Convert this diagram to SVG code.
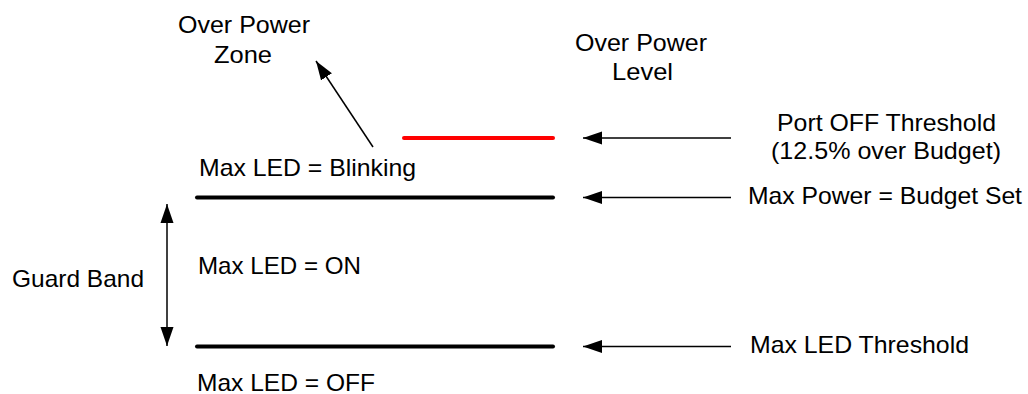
<svg xmlns="http://www.w3.org/2000/svg" width="1028" height="394" viewBox="0 0 1028 394">
  <style>
    text { font-family: "Liberation Sans", Arial, sans-serif; font-size: 24px; fill: #000; }
    .lvl { fill: none; stroke-width: 4; stroke-linecap: round; }
    .con { fill: none; stroke: #000; stroke-width: 1.5; }
  </style>
  <defs>
    <marker id="ah" markerUnits="userSpaceOnUse" markerWidth="20" markerHeight="14" refX="19" refY="7" orient="auto-start-reverse" viewBox="0 0 20 14">
      <path d="M0,0.5 L19,7 L0,13.5 Z" fill="#000"/>
    </marker>
  </defs>
  <rect width="1028" height="394" fill="#fff"/>

  <g id="level-port-off">
    <line class="lvl" x1="404" y1="138" x2="553" y2="138" stroke="#ff0000"/>
  </g>
  <g id="level-max-power">
    <line class="lvl" x1="197" y1="197.5" x2="553" y2="197.5" stroke="#000"/>
  </g>
  <g id="level-max-led">
    <line class="lvl" x1="197" y1="346.5" x2="553" y2="346.5" stroke="#000"/>
  </g>

  <g id="connectors">
    <line class="con" x1="731" y1="138" x2="583" y2="138" marker-end="url(#ah)"/>
    <line class="con" x1="731" y1="197.5" x2="583" y2="197.5" marker-end="url(#ah)"/>
    <line class="con" x1="731" y1="346.5" x2="583" y2="346.5" marker-end="url(#ah)"/>
    <line class="con" x1="373" y1="147" x2="316" y2="61" marker-end="url(#ah)"/>
    <line class="con" x1="167" y1="204" x2="167" y2="346" marker-start="url(#ah)" marker-end="url(#ah)"/>
  </g>

  <g id="label-over-power-zone">
    <text x="178" y="33" textLength="132" lengthAdjust="spacingAndGlyphs">Over Power</text>
    <text x="214" y="63" textLength="58" lengthAdjust="spacingAndGlyphs">Zone</text>
  </g>
  <g id="label-over-power-level">
    <text x="575" y="51" textLength="132" lengthAdjust="spacingAndGlyphs">Over Power</text>
    <text x="612" y="80" textLength="61" lengthAdjust="spacingAndGlyphs">Level</text>
  </g>
  <g id="label-port-off">
    <text x="777" y="131" textLength="219" lengthAdjust="spacingAndGlyphs">Port OFF Threshold</text>
    <text x="771" y="159" textLength="230" lengthAdjust="spacingAndGlyphs">(12.5% over Budget)</text>
  </g>
  <g id="label-max-power">
    <text x="748" y="204" textLength="274" lengthAdjust="spacingAndGlyphs">Max Power = Budget Set</text>
  </g>
  <g id="label-max-led-threshold">
    <text x="750" y="353" textLength="219" lengthAdjust="spacingAndGlyphs">Max LED Threshold</text>
  </g>
  <g id="label-blinking">
    <text x="199" y="176" textLength="217" lengthAdjust="spacingAndGlyphs">Max LED = Blinking</text>
  </g>
  <g id="label-on">
    <text x="198" y="274" textLength="163" lengthAdjust="spacingAndGlyphs">Max LED = ON</text>
  </g>
  <g id="label-off">
    <text x="197" y="391" textLength="178" lengthAdjust="spacingAndGlyphs">Max LED = OFF</text>
  </g>
  <g id="label-guard-band">
    <text x="12" y="287" textLength="132" lengthAdjust="spacingAndGlyphs">Guard Band</text>
  </g>
</svg>
